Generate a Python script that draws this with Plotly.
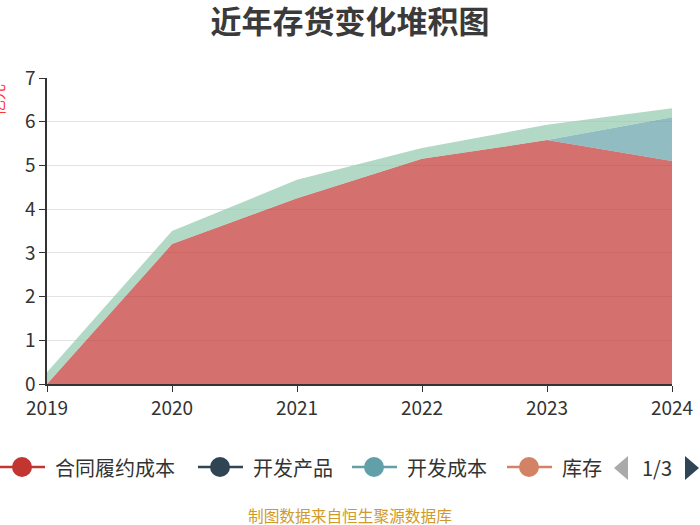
import plotly.graph_objects as go

years = [2019, 2020, 2021, 2022, 2023, 2024]
series_names = ["合同履约成本", "开发产品", "开发成本", "库存", "原材料"]
contract_cost = [0.0, 3.2, 4.25, 5.15, 5.58, 5.1]
dev_products = [0, 0, 0, 0, 0, 0]
dev_cost = [0, 0, 0, 0, 0, 1.0]
inventory = [0, 0, 0, 0, 0, 0]
raw_material = [0.27, 0.3, 0.42, 0.25, 0.35, 0.21]
colors = ["#c23531", "#2f4554", "#61a0a8", "#d48265", "#91c7ae"]
fills = ["rgba(194,53,49,0.7)", "rgba(47,69,84,0.7)", "rgba(97,160,168,0.7)",
         "rgba(212,130,101,0.7)", "rgba(145,199,174,0.7)"]
values = [contract_cost, dev_products, dev_cost, inventory, raw_material]
legend_page = "1/3"

fig = go.Figure()
for name, vals, fc in zip(series_names, values, fills):
    fig.add_trace(go.Scatter(x=years, y=vals, name=name, stackgroup="one",
                             mode="lines", line=dict(width=0), fillcolor=fc,
                             showlegend=False, hoverinfo="x+y+name"))

L, R, T, B = 47, 28, 78, 141
pw, ph = 700 - L - R, 525 - T - B
px = lambda x: (x - L) / pw
py = lambda y: (525 - B - y) / ph

tickfont = dict(size=19, family="Noto Sans CJK SC", color="#333333")
fig.update_layout(
    width=700, height=525,
    margin=dict(l=L, r=R, t=T, b=B, autoexpand=False),
    plot_bgcolor="white", paper_bgcolor="white",
    font=dict(family="Noto Sans CJK SC", color="#333333"),
    title=dict(text="<b>近年存货变化堆积图</b>", x=0.5, xanchor="center",
               y=1 - 22 / 525, yanchor="middle",
               font=dict(size=31, color="#3a3a3a", family="Noto Sans CJK SC")),
    xaxis=dict(range=[2019, 2024], tickvals=years, ticktext=[str(y) for y in years],
               showgrid=False, zeroline=False, showline=True, linecolor="#333333",
               linewidth=1.5, ticks="outside", ticklen=6, tickcolor="#333333",
               tickfont=tickfont, automargin=False),
    yaxis=dict(range=[0, 7], tickvals=list(range(8)), showgrid=True, gridcolor="#e3e3e3",
               zeroline=False, showline=True, linecolor="#333333", linewidth=1.5,
               ticks="outside", ticklen=6, tickcolor="#333333",
               tickfont=tickfont, automargin=False),
    showlegend=False,
)

# manual legend (first page of a paged legend)
legend_y = 467
item_x = [0, 198, 352, 507]
for name, c, x0 in zip(series_names[:4], colors[:4], item_x):
    fig.add_shape(type="line", xref="paper", yref="paper", x0=px(x0), x1=px(x0 + 45),
                  y0=py(legend_y), y1=py(legend_y), line=dict(color=c, width=2.5))
    fig.add_shape(type="circle", xref="paper", yref="paper", xsizemode="pixel", ysizemode="pixel",
                  xanchor=px(x0 + 22), yanchor=py(legend_y), x0=-10, x1=10, y0=-10, y1=10,
                  fillcolor=c, line=dict(width=0))
    fig.add_annotation(text=name, xref="paper", yref="paper", x=px(x0 + 53), y=py(legend_y),
                       xanchor="left", yanchor="middle", showarrow=False,
                       font=dict(size=20, color="#333333"))

fig.add_annotation(text="亿元", textangle=-90, xref="paper", yref="paper",
                   x=px(-3), y=py(100), xanchor="center", yanchor="middle",
                   showarrow=False, font=dict(size=16, color="#ff3333"))
fig.add_annotation(text=legend_page, xref="paper", yref="paper", x=px(657), y=py(legend_y),
                   xanchor="center", yanchor="middle", showarrow=False,
                   font=dict(size=20, color="#333333"))
fig.add_shape(type="path", xref="paper", yref="paper", xsizemode="pixel", ysizemode="pixel",
              xanchor=px(621), yanchor=py(468), path="M 7 -12 L -7 0 L 7 12 Z",
              fillcolor="#aaaaaa", line=dict(width=0))
fig.add_shape(type="path", xref="paper", yref="paper", xsizemode="pixel", ysizemode="pixel",
              xanchor=px(692), yanchor=py(468), path="M -7 -12 L 7 0 L -7 12 Z",
              fillcolor="#2f4554", line=dict(width=0))
fig.add_annotation(text="制图数据来自恒生聚源数据库", xref="paper", yref="paper",
                   x=px(350), y=py(515), xanchor="center", yanchor="middle", showarrow=False,
                   font=dict(size=15.7, color="#d09a2a"))

fig.write_html("out.html", config={"displayModeBar": False},
               post_script="document.body.style.margin='0';document.body.style.overflow='hidden';")
